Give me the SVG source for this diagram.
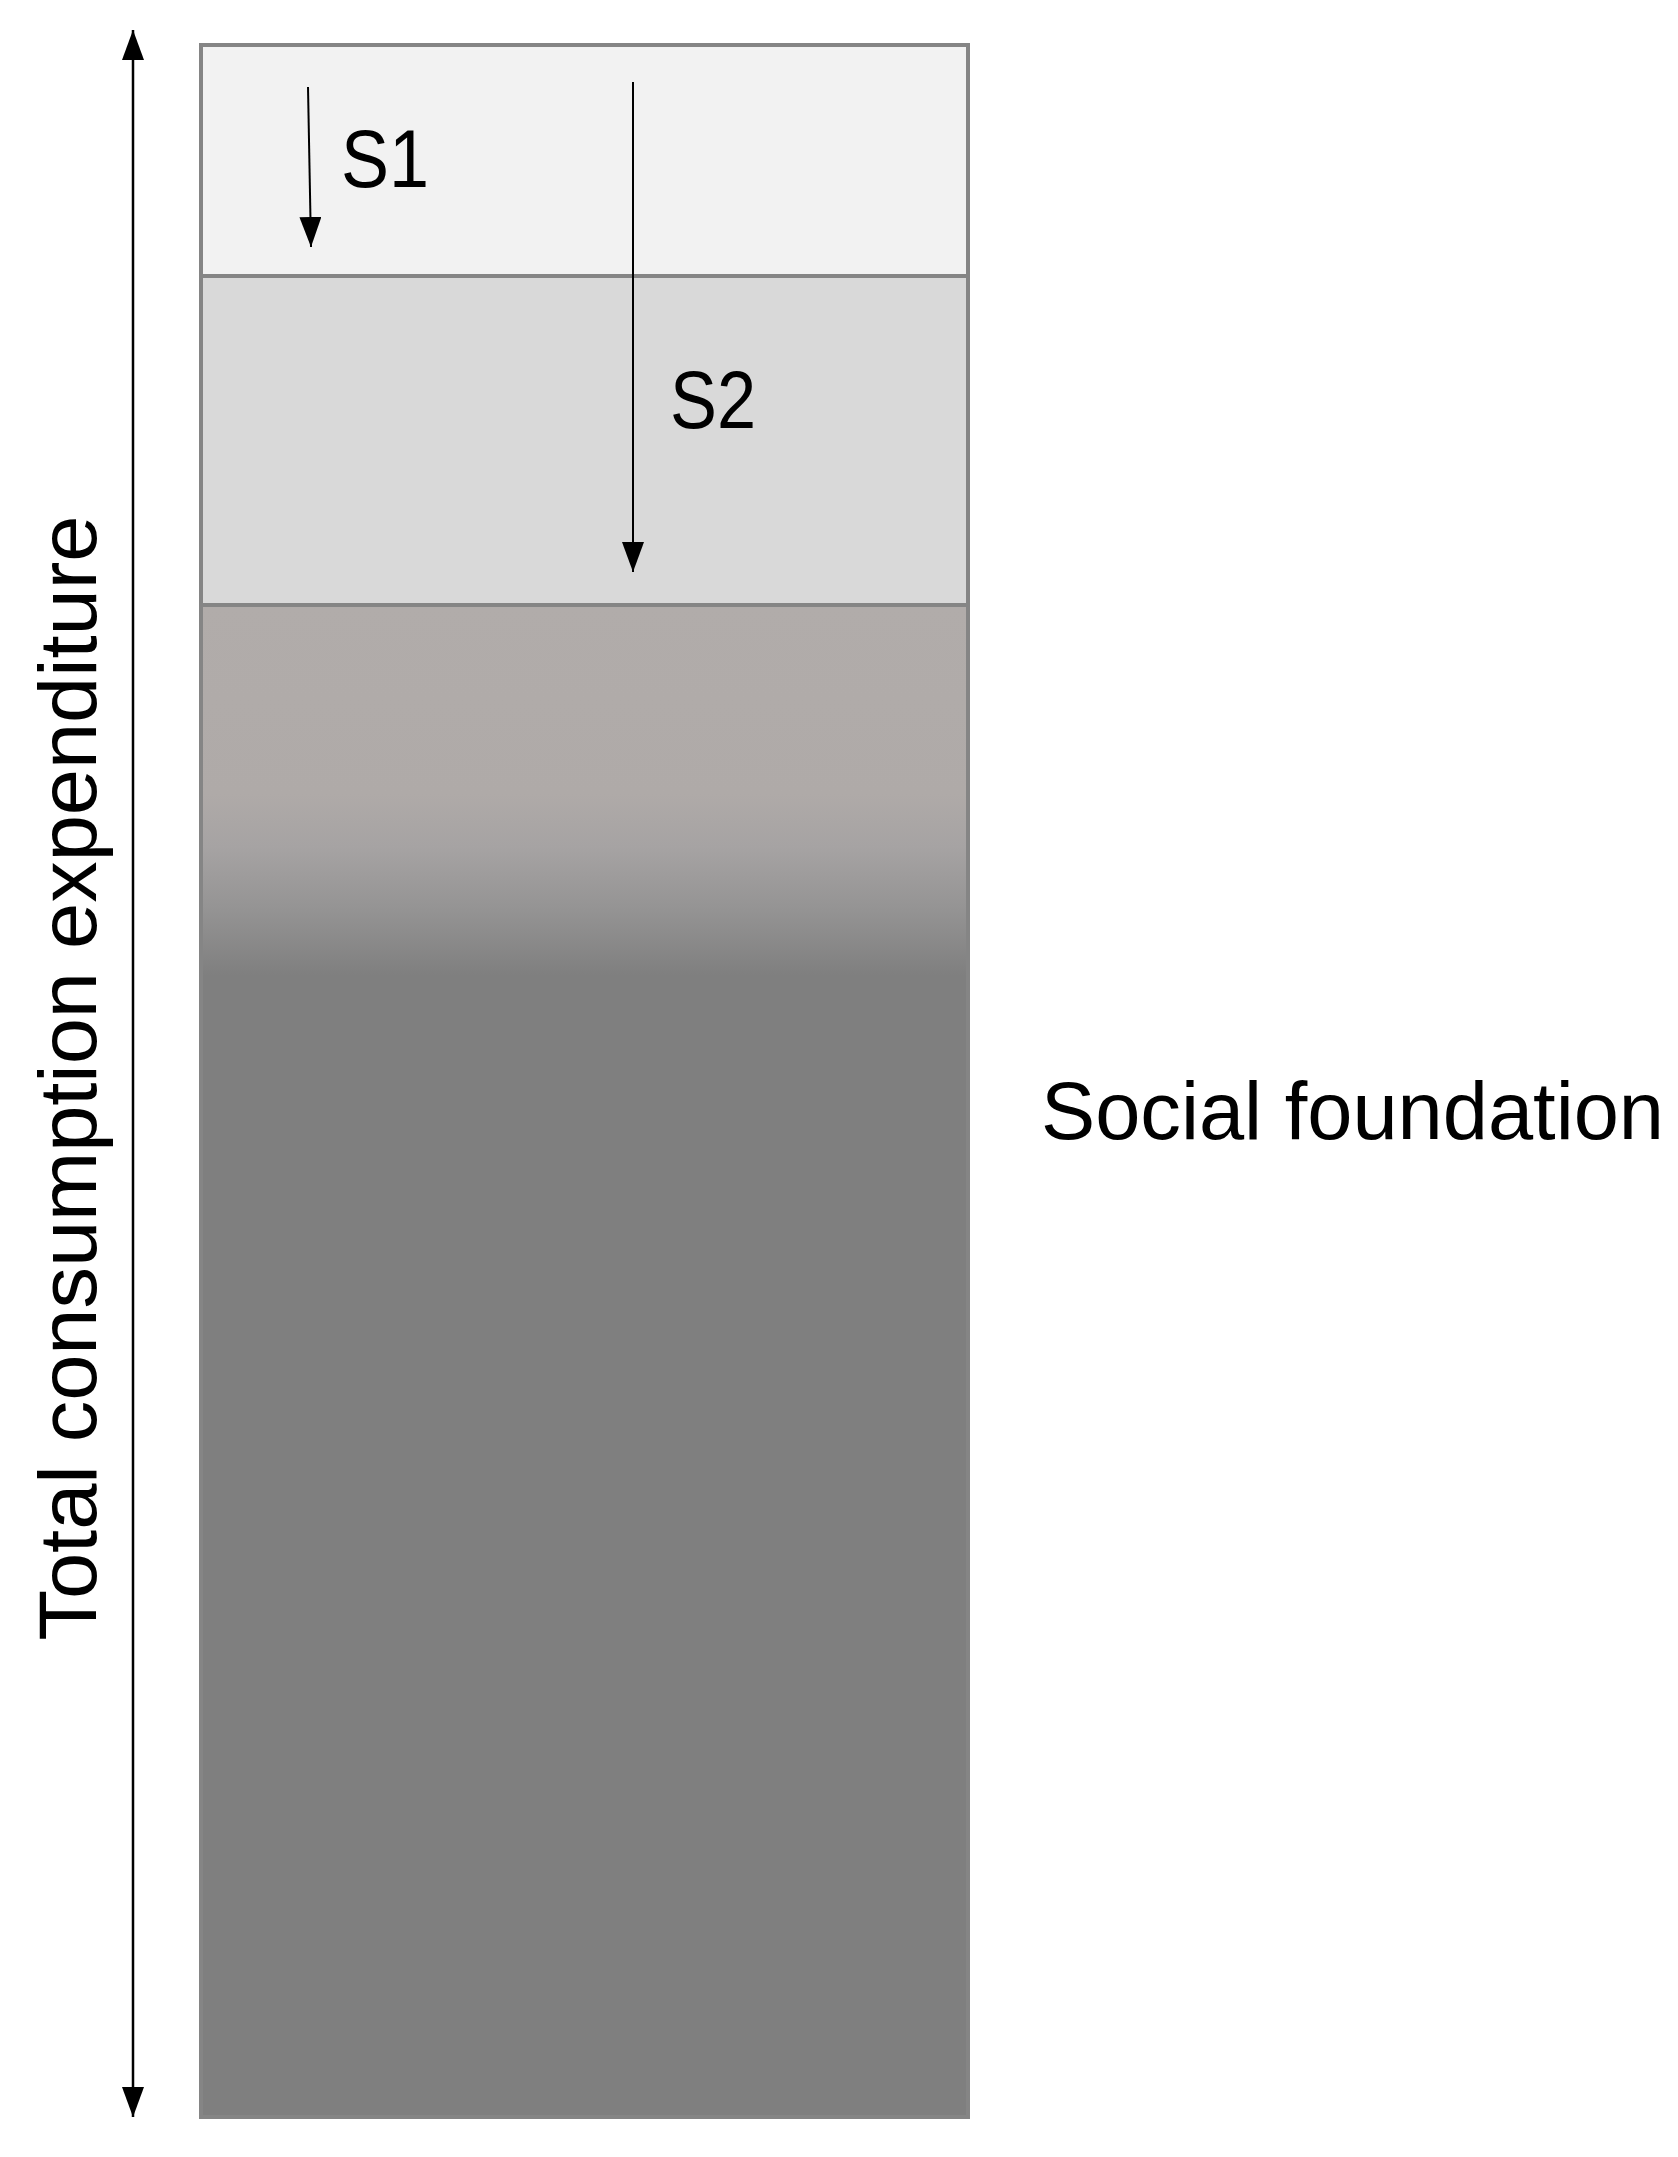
<svg xmlns="http://www.w3.org/2000/svg" width="1678" height="2157" viewBox="0 0 1678 2157">
  <style>
    .lbl { font-family: "Liberation Sans", Arial, sans-serif; font-size: 81px; fill: #000; }
    .band { stroke: #858585; stroke-width: 4; }
    .conn { stroke: #000; fill: none; }
  </style>
  <defs>
    <marker id="ahv" viewBox="0 0 30 22" refX="30" refY="11" markerWidth="30" markerHeight="22" markerUnits="userSpaceOnUse" orient="auto-start-reverse">
      <path d="M0,0 L30,11 L0,22 Z" fill="#000"/>
    </marker>
    <linearGradient id="gBase" x1="0" y1="605" x2="0" y2="2117" gradientUnits="userSpaceOnUse">
      <stop offset="0" stop-color="#b1acaa"/>
      <stop offset="0.125" stop-color="#afaaa8"/>
      <stop offset="0.16" stop-color="#a6a3a3"/>
      <stop offset="0.2" stop-color="#959494"/>
      <stop offset="0.245" stop-color="#7f7f7f"/>
      <stop offset="1" stop-color="#7f7f7f"/>
    </linearGradient>
  </defs>

  <g id="band-base">
    <rect class="band" x="201" y="605" width="767" height="1512" fill="url(#gBase)" stroke="#666666"/>
  </g>
  <g id="band-s2">
    <rect class="band" x="201" y="276" width="767" height="329" fill="#d9d9d9"/>
  </g>
  <g id="band-s1">
    <rect class="band" x="201" y="45" width="767" height="231" fill="#f2f2f2"/>
  </g>

  <g id="connectors">
    <line class="conn" x1="133" y1="30" x2="133" y2="2117" stroke-width="2.5" marker-start="url(#ahv)" marker-end="url(#ahv)"/>
    <line class="conn" x1="308" y1="87" x2="311" y2="247" stroke-width="2" marker-end="url(#ahv)"/>
    <line class="conn" x1="633" y1="82" x2="633" y2="572" stroke-width="2" marker-end="url(#ahv)"/>
  </g>

  <g id="labels">
    <text class="lbl" x="341" y="187" textLength="88" lengthAdjust="spacingAndGlyphs">S1</text>
    <text class="lbl" x="670" y="428" textLength="86" lengthAdjust="spacingAndGlyphs">S2</text>
    <text class="lbl" x="1041" y="1139" textLength="623" lengthAdjust="spacingAndGlyphs">Social foundation</text>
    <text class="lbl" transform="translate(96,1078) rotate(-90)" text-anchor="middle" textLength="1125" lengthAdjust="spacingAndGlyphs">Total consumption expenditure</text>
  </g>
</svg>
